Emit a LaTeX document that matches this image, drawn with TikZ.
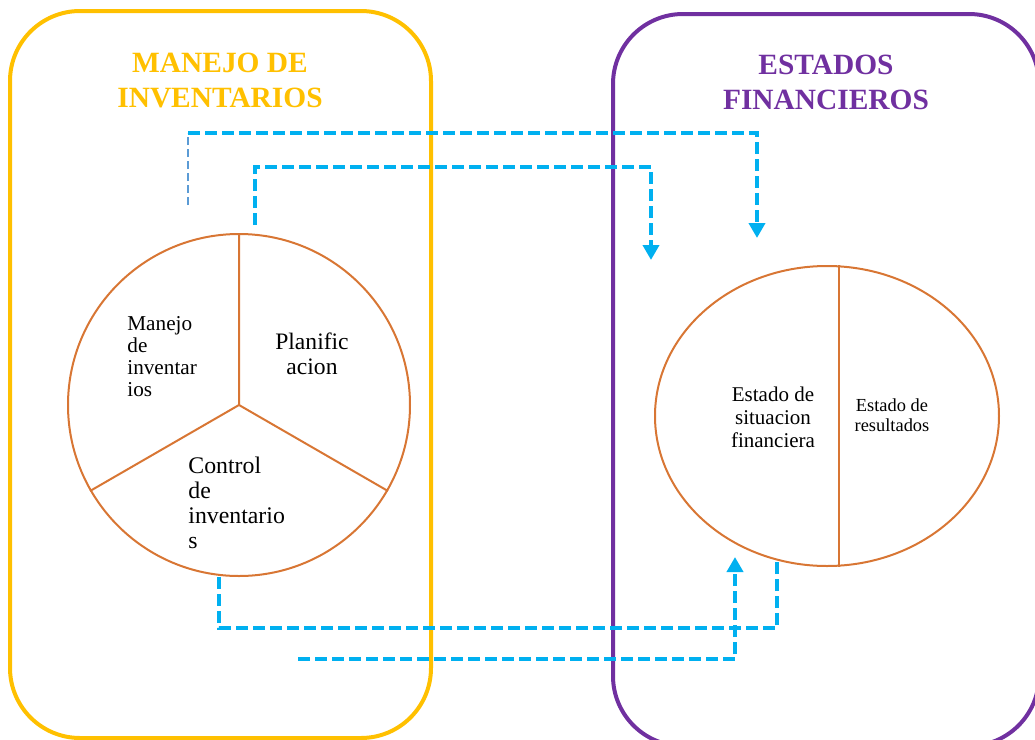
\documentclass[tikz,border=0pt]{standalone}
\usepackage{fontspec}
\setmainfont{Liberation Serif}
\usepackage{tikz}
\usetikzlibrary{shapes,arrows,positioning,shapes.geometric,arrows.meta}
\definecolor{manejoyellow}{HTML}{FFC000}
\definecolor{estadospurple}{HTML}{7030A0}
\definecolor{flowblue}{HTML}{00B0F0}
\definecolor{thinblue}{HTML}{5B9BD5}
\definecolor{pieorange}{RGB}{216,118,52}
\tikzstyle{groupbox} = [rectangle, rounded corners=35pt, line width=2pt, inner sep=0]
\tikzstyle{grouptitle} = [align=center, font=\fontsize{14.7}{17.5}\selectfont\bfseries]
\tikzstyle{pieline} = [draw=pieorange, line width=1pt]
\tikzstyle{flow} = [draw=flowblue, line width=2pt, dash pattern=on 6pt off 2.5pt]
\tikzstyle{thinflow} = [draw=thinblue, line width=0.8pt, dash pattern=on 4pt off 2pt]
\tikzstyle{flowtip} = [-{Triangle[width=8pt,length=7.5pt]}]

\begin{document}
\begin{tikzpicture}[x=0.5pt,y=-0.5pt]
    \useasboundingbox (0,0) rectangle (1035,740);
    \clip (0,0) rectangle (1035,740);

    % the two groups
    \node[groupbox, draw=manejoyellow, minimum width=210.5pt, minimum height=363.5pt] (manejobox) at (220.5,374.5) {};
    \node[groupbox, draw=estadospurple, minimum width=213pt, minimum height=366pt] (estadosbox) at (826,380) {};
    \node[grouptitle, text=manejoyellow] (manejotitle) at (220,80) {MANEJO DE\\INVENTARIOS};
    \node[grouptitle, text=estadospurple] (estadostitle) at (826,82) {ESTADOS\\FINANCIEROS};

    % pie with three parts
    \node[circle, pieline, minimum size=171pt, inner sep=0] (pie) at (239,405) {};
    \draw[pieline] (pie.90) -- (pie.center) -- (pie.210) (pie.center) -- (pie.330);
    \node[align=left, anchor=west, inner sep=0, font=\fontsize{10.6}{11}\selectfont] (manejotxt) at (127,357) {Manejo\\de\\inventar\\ios};
    \node[align=center, inner sep=0, font=\fontsize{11.8}{12.5}\selectfont] (planiftxt) at (312,354) {Planific\\acion};
    \node[align=left, anchor=west, inner sep=0, font=\fontsize{11.9}{12.5}\selectfont] (controltxt) at (188,503) {Control\\de\\inventario\\s};

    % ellipse with two parts
    \node[ellipse, pieline, minimum width=172pt, minimum height=150pt, inner sep=0] (estados) at (827,416) {};
    \draw[pieline] ([xshift=6pt]estados.north) -- ([xshift=6pt]estados.south);
    \node[align=center, inner sep=0, font=\fontsize{10.5}{11.5}\selectfont] (situaciontxt) at (773,417) {Estado de\\situacion\\financiera};
    \node[align=center, inner sep=0, font=\fontsize{9.2}{10}\selectfont] (resultadostxt) at (892,415) {Estado de\\resultados};

    % connectors
    \coordinate (srcA) at (188,205);
    \coordinate (tipA) at (757,238);
    \coordinate (srcB) at ([xshift=8pt,yshift=4pt]pie.north);
    \coordinate (tipB) at (651,260);
    \coordinate (srcC) at ([xshift=-10pt]pie.south);
    \coordinate (tipC) at ([xshift=-25pt,yshift=3pt]estados.south);
    \coordinate (srcD) at (298,659);
    \coordinate (tipD) at (735,557);

    \draw[thinflow] (srcA) -- ++(0,-72) coordinate (bendA);
    \draw[flow, flowtip] (bendA) -| (tipA);
    \draw[flow, flowtip] (srcB) -- ++(0,-58) -| (tipB);
    \draw[flow] (srcC) -- ++(0,51) -| (tipC);
    \draw[flow, flowtip] (srcD) -| (tipD);
\end{tikzpicture}
\end{document}
